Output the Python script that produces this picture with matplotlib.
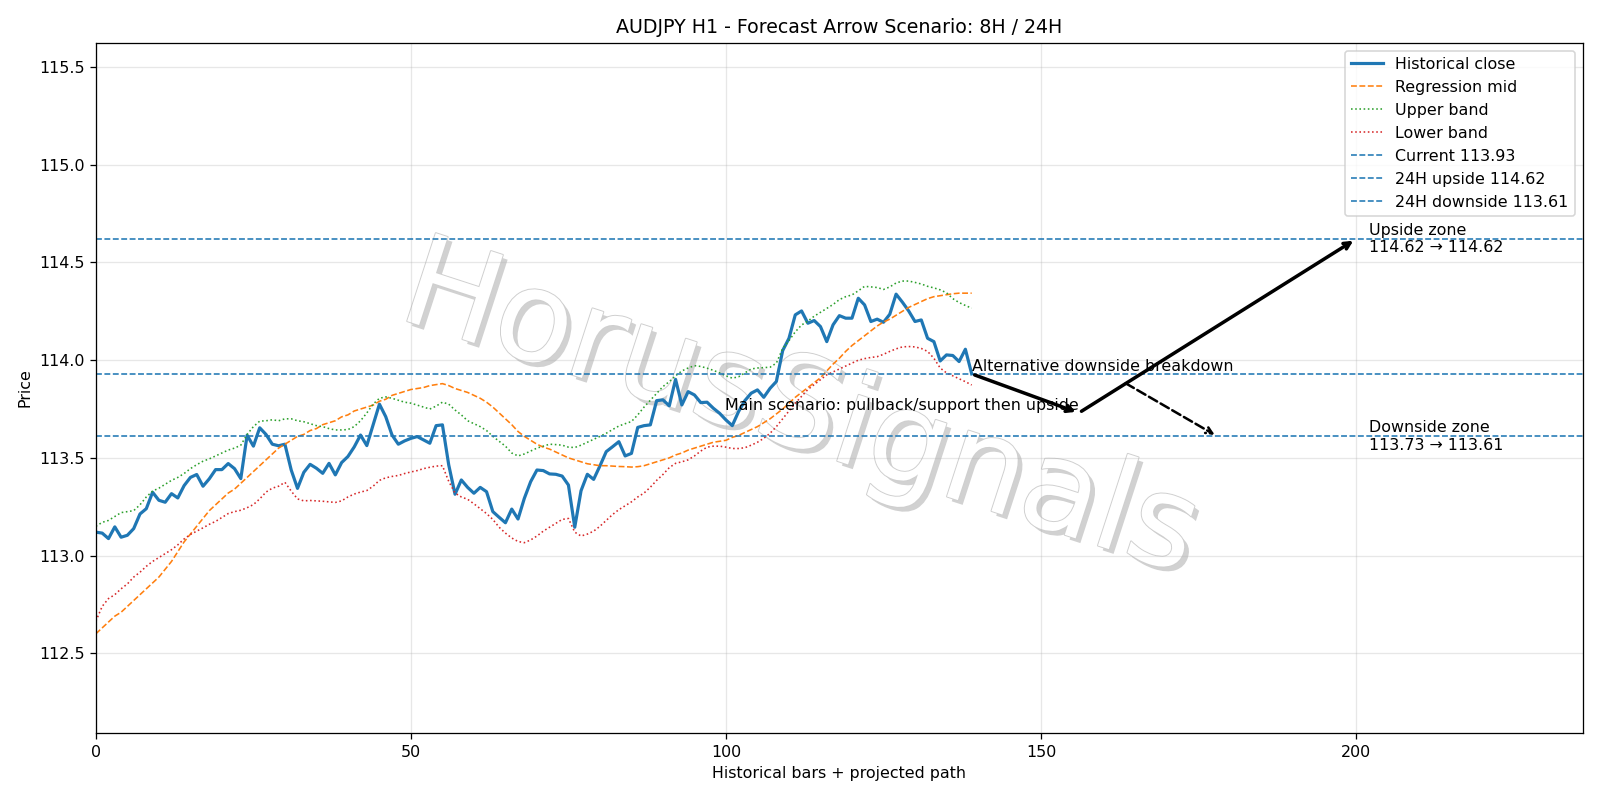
import numpy as np
import matplotlib
matplotlib.use("Agg")
import matplotlib.pyplot as plt
import matplotlib.patheffects as pe

# Valores
close = [113.12, 113.115, 113.087, 113.147, 113.094, 113.104, 113.138, 113.213, 113.24, 113.324,
         113.283, 113.273, 113.317, 113.295, 113.358, 113.40, 113.415, 113.355, 113.393, 113.44,
         113.44, 113.471, 113.445, 113.394, 113.616, 113.56, 113.654, 113.62, 113.57, 113.562,
         113.57, 113.438, 113.344, 113.426, 113.467, 113.447, 113.421, 113.472, 113.413, 113.476,
         113.507, 113.556, 113.617, 113.563, 113.669, 113.775, 113.711, 113.617, 113.57, 113.587,
         113.60, 113.609, 113.592, 113.575, 113.665, 113.669, 113.464, 113.314, 113.387, 113.349,
         113.319, 113.349, 113.327, 113.225, 113.196, 113.168, 113.238, 113.187, 113.293, 113.378,
         113.438, 113.435, 113.418, 113.416, 113.407, 113.361, 113.145, 113.332, 113.416, 113.39,
         113.459, 113.532, 113.557, 113.583, 113.51, 113.523, 113.656, 113.665, 113.669, 113.793,
         113.797, 113.766, 113.902, 113.771, 113.839, 113.822, 113.783, 113.785, 113.754, 113.728,
         113.694, 113.665, 113.737, 113.793, 113.831, 113.848, 113.81, 113.856, 113.891, 114.049,
         114.112, 114.232, 114.252, 114.189, 114.203, 114.172, 114.095, 114.181, 114.228, 114.215,
         114.215, 114.317, 114.283, 114.198, 114.21, 114.194, 114.235, 114.338, 114.297, 114.252,
         114.198, 114.206, 114.112, 114.095, 113.996, 114.027, 114.024, 113.993, 114.056, 113.93]

mid = [112.60, 112.63, 112.66, 112.69, 112.71, 112.74, 112.77, 112.80, 112.83, 112.86,
       112.89, 112.93, 112.97, 113.02, 113.07, 113.11, 113.15, 113.19, 113.23, 113.26,
       113.29, 113.32, 113.34, 113.37, 113.40, 113.43, 113.46, 113.49, 113.52, 113.55,
       113.57, 113.59, 113.61, 113.62, 113.64, 113.65, 113.67, 113.68, 113.69, 113.71,
       113.72, 113.74, 113.75, 113.76, 113.77, 113.79, 113.80, 113.82, 113.83, 113.84,
       113.85, 113.855, 113.86, 113.87, 113.875, 113.88, 113.87, 113.855, 113.845, 113.835,
       113.82, 113.805, 113.785, 113.76, 113.73, 113.70, 113.67, 113.635, 113.61, 113.59,
       113.57, 113.555, 113.545, 113.53, 113.515, 113.50, 113.49, 113.48, 113.47, 113.465,
       113.46, 113.46, 113.458, 113.456, 113.455, 113.453, 113.455, 113.46, 113.47, 113.48,
       113.49, 113.50, 113.515, 113.525, 113.54, 113.55, 113.56, 113.57, 113.58, 113.585,
       113.59, 113.605, 113.615, 113.63, 113.645, 113.66, 113.68, 113.70, 113.725, 113.75,
       113.78, 113.81, 113.835, 113.86, 113.885, 113.91, 113.945, 113.98, 114.01, 114.045,
       114.075, 114.10, 114.125, 114.15, 114.175, 114.195, 114.21, 114.23, 114.25, 114.27,
       114.285, 114.30, 114.315, 114.325, 114.33, 114.335, 114.34, 114.343, 114.343, 114.343]

upper = [113.15, 113.17, 113.18, 113.20, 113.22, 113.225, 113.23, 113.26, 113.30, 113.33,
         113.345, 113.365, 113.385, 113.40, 113.42, 113.445, 113.465, 113.483, 113.495, 113.51,
         113.525, 113.54, 113.55, 113.565, 113.62, 113.66, 113.688, 113.69, 113.695, 113.69,
         113.70, 113.70, 113.69, 113.685, 113.675, 113.665, 113.66, 113.65, 113.643, 113.643,
         113.645, 113.66, 113.69, 113.73, 113.775, 113.805, 113.812, 113.805, 113.795, 113.785,
         113.78, 113.77, 113.76, 113.75, 113.765, 113.785, 113.775, 113.745, 113.72, 113.69,
         113.675, 113.66, 113.64, 113.61, 113.585, 113.56, 113.525, 113.51, 113.52, 113.535,
         113.55, 113.56, 113.57, 113.568, 113.565, 113.555, 113.553, 113.565, 113.58, 113.595,
         113.61, 113.626, 113.645, 113.663, 113.675, 113.686, 113.72, 113.76, 113.795, 113.83,
         113.865, 113.89, 113.92, 113.945, 113.96, 113.972, 113.968, 113.959, 113.948, 113.935,
         113.92, 113.908, 113.915, 113.935, 113.955, 113.96, 113.962, 113.964, 113.985, 114.06,
         114.10, 114.145, 114.18, 114.20, 114.225, 114.245, 114.265, 114.285, 114.31, 114.325,
         114.334, 114.355, 114.378, 114.375, 114.372, 114.362, 114.375, 114.395, 114.405, 114.405,
         114.398, 114.39, 114.378, 114.37, 114.36, 114.345, 114.315, 114.295, 114.28, 114.266]

lower = [112.665, 112.74, 112.78, 112.80, 112.83, 112.855, 112.89, 112.915, 112.945, 112.97,
         112.99, 113.01, 113.03, 113.055, 113.085, 113.108, 113.125, 113.142, 113.16, 113.175,
         113.195, 113.215, 113.225, 113.232, 113.245, 113.261, 113.29, 113.325, 113.345, 113.355,
         113.375, 113.33, 113.29, 113.28, 113.282, 113.28, 113.278, 113.275, 113.272, 113.28,
         113.30, 113.315, 113.325, 113.333, 113.355, 113.385, 113.398, 113.405, 113.41, 113.42,
         113.428, 113.435, 113.445, 113.452, 113.458, 113.46, 113.38, 113.32, 113.30, 113.288,
         113.265, 113.24, 113.215, 113.185, 113.145, 113.115, 113.09, 113.072, 113.066, 113.08,
         113.10, 113.125, 113.145, 113.165, 113.185, 113.19, 113.12, 113.10, 113.11, 113.125,
         113.15, 113.18, 113.21, 113.235, 113.255, 113.275, 113.30, 113.32, 113.35, 113.385,
         113.415, 113.45, 113.472, 113.48, 113.49, 113.51, 113.535, 113.555, 113.56, 113.56,
         113.555, 113.548, 113.548, 113.552, 113.565, 113.58, 113.60, 113.626, 113.66, 113.70,
         113.74, 113.78, 113.815, 113.85, 113.875, 113.90, 113.925, 113.94, 113.955, 113.97,
         113.985, 114.00, 114.008, 114.014, 114.018, 114.03, 114.045, 114.058, 114.068, 114.07,
         114.068, 114.06, 114.045, 114.01, 113.96, 113.935, 113.92, 113.905, 113.89, 113.873]

current = 113.93
upside = 114.62
downside = 113.61
pullback = 113.73

# Escenario proyectado (barra, precio)
last_bar = 139
pullback_bar = 156
target_bar = 200
alt_start = (163, 113.89)
alt_end = (178, 113.61)

x = np.arange(len(close))

fig, ax = plt.subplots(figsize=(14, 7), dpi=100)

# Marca de agua
ax.text(0.5, 0.485, "HorusSignals", transform=fig.transFigure, fontsize=80,
        color="white", rotation=-18, ha="center", va="center", zorder=0.5,
        path_effects=[pe.withSimplePatchShadow(offset=(3, -3), shadow_rgbFace=(0.6, 0.6, 0.6), alpha=0.45),
                      pe.withStroke(linewidth=1.2, foreground="#cfcfcf")])

ax.plot(x, close, color="tab:blue", linewidth=2, label="Historical close")
ax.plot(x, mid, color="tab:orange", linestyle="--", linewidth=1, label="Regression mid")
ax.plot(x, upper, color="tab:green", linestyle=":", linewidth=1, label="Upper band")
ax.plot(x, lower, color="tab:red", linestyle=":", linewidth=1, label="Lower band")

ax.axhline(current, color="tab:blue", linestyle="--", linewidth=1, label=f"Current {current:.2f}")
ax.axhline(upside, color="tab:blue", linestyle="--", linewidth=1, label=f"24H upside {upside:.2f}")
ax.axhline(downside, color="tab:blue", linestyle="--", linewidth=1, label=f"24H downside {downside:.2f}")

# Flechas del escenario principal
ax.annotate("", xy=(pullback_bar, pullback), xytext=(last_bar, current),
            arrowprops=dict(arrowstyle="->", color="black", lw=2.2))
ax.annotate("", xy=(target_bar, upside), xytext=(pullback_bar, pullback),
            arrowprops=dict(arrowstyle="->", color="black", lw=2.2))
# Escenario alternativo
ax.annotate("", xy=alt_end, xytext=alt_start,
            arrowprops=dict(arrowstyle="->", color="black", lw=1.6, linestyle="--"))

ax.text(pullback_bar, pullback, "Main scenario: pullback/support then upside",
        ha="right", va="bottom", fontsize=10)
ax.text(last_bar, current, "Alternative downside breakdown", ha="left", va="bottom", fontsize=10)
ax.text(target_bar + 2, upside, f"Upside zone\n{upside:.2f} \u2192 {upside:.2f}",
        ha="left", va="center", fontsize=10)
ax.text(target_bar + 2, downside, f"Downside zone\n{pullback:.2f} \u2192 {downside:.2f}",
        ha="left", va="center", fontsize=10)

ax.set_xlim(0, 236)
ax.set_ylim(112.09, 115.625)
ax.set_title("AUDJPY H1 - Forecast Arrow Scenario: 8H / 24H")
ax.set_xlabel("Historical bars + projected path")
ax.set_ylabel("Price")
ax.grid(True, alpha=0.3)
ax.legend(loc="upper right")
plt.tight_layout()
plt.savefig("out.png", dpi=1600 / 14)
